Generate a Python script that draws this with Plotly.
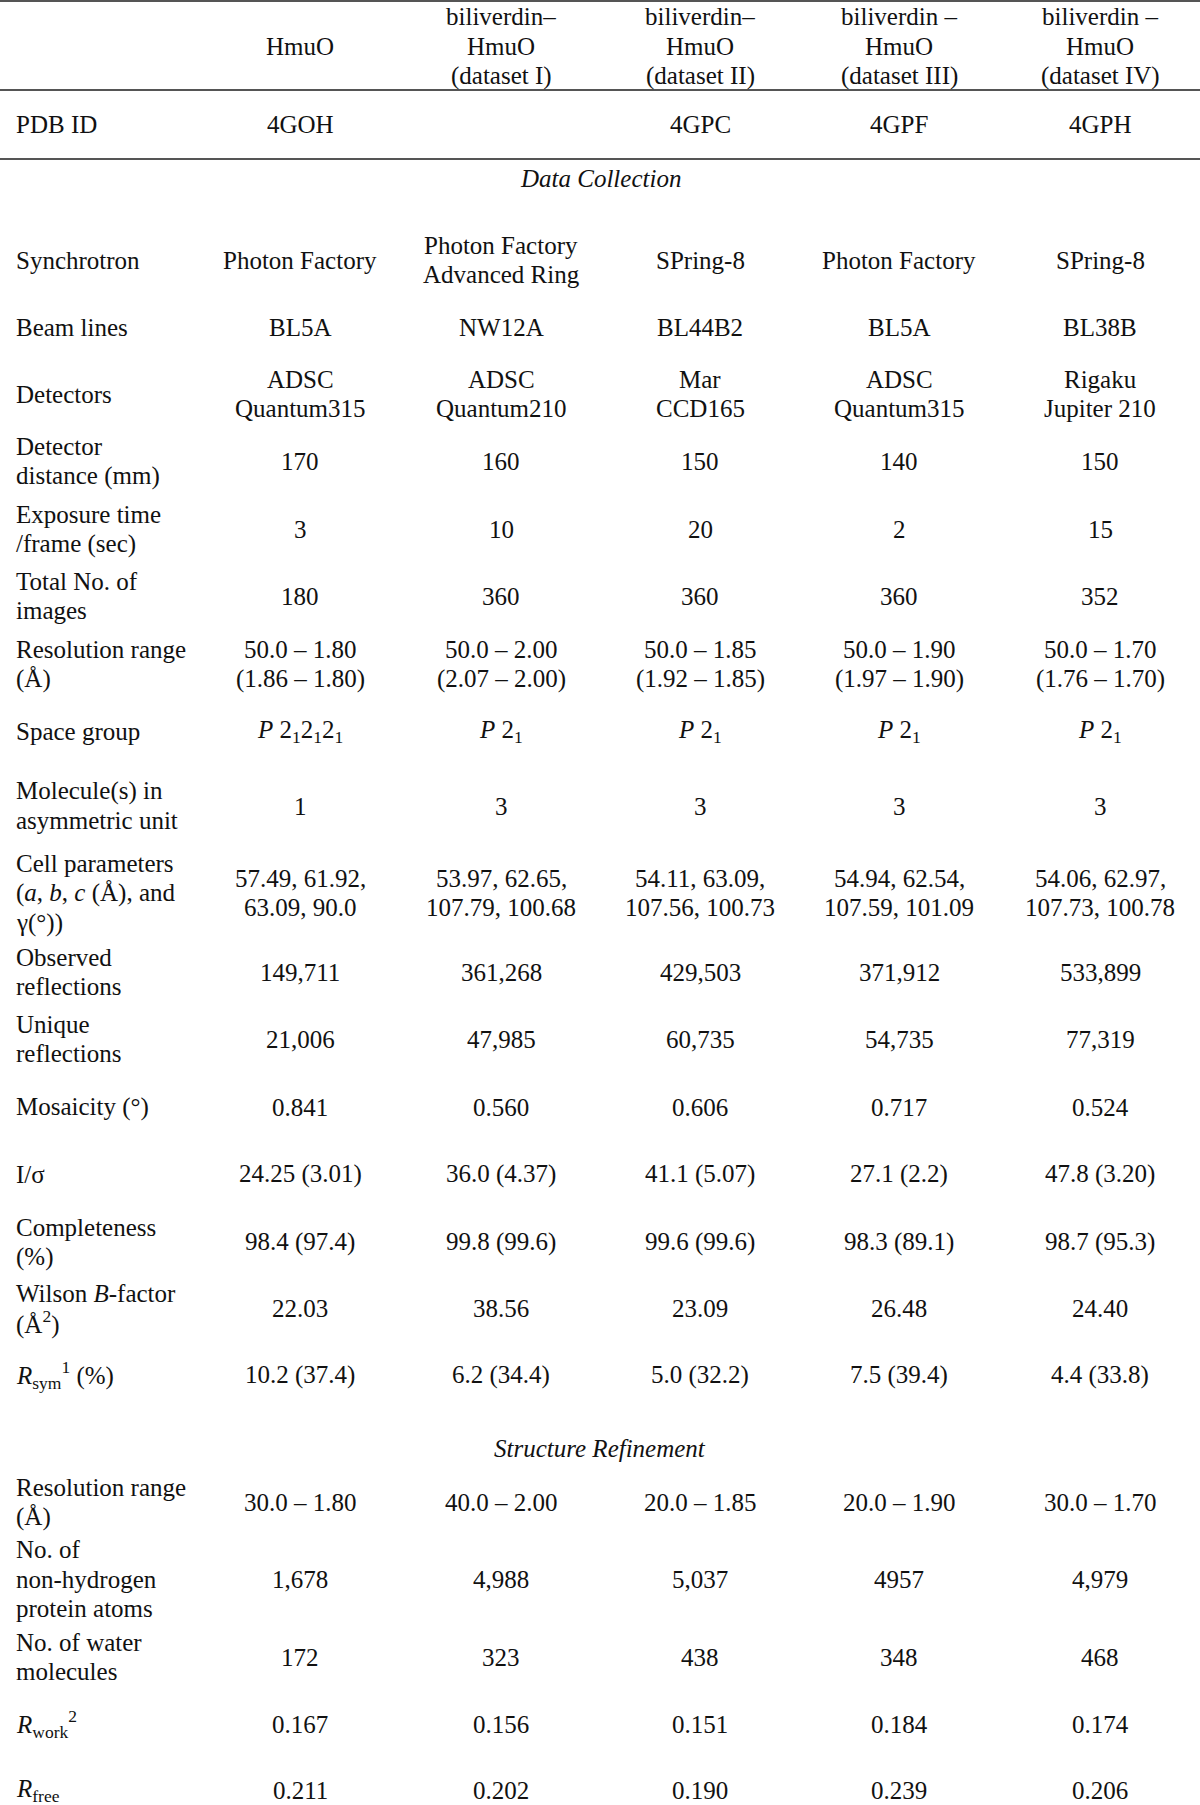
import plotly.graph_objects as go

# ---------------- data ----------------
col_headers = [
    "HmuO",
    "biliverdin–<br>HmuO<br>(dataset I)",
    "biliverdin–<br>HmuO<br>(dataset II)",
    "biliverdin –<br>HmuO<br>(dataset III)",
    "biliverdin –<br>HmuO<br>(dataset IV)",
]
pdb_label = "PDB ID"
pdb_ids = ["4GOH", "", "4GPC", "4GPF", "4GPH"]

section_titles = ["Data Collection", "Structure Refinement"]

row_labels = [
    "Synchrotron",
    "Beam lines",
    "Detectors",
    "Detector<br>distance (mm)",
    "Exposure time<br>/frame (sec)",
    "Total No. of<br>images",
    "Resolution range<br>(Å)",
    "Space group",
    "Molecule(s) in<br>asymmetric unit",
    "Cell parameters<br>(<i>a</i>, <i>b</i>, <i>c</i> (Å), and<br>γ(°))",
    "Observed<br>reflections",
    "Unique<br>reflections",
    "Mosaicity (°)",
    "I/σ",
    "Completeness<br>(%)",
    "Wilson <i>B</i>-factor<br>(Å<sup>2</sup>)",
    "<i>R</i><sub>sym</sub><sup>1</sup> (%)",
    "Resolution range<br>(Å)",
    "No. of<br>non-hydrogen<br>protein atoms",
    "No. of water<br>molecules",
    "<i>R</i><sub>work</sub><sup>2</sup>",
    "<i>R</i><sub>free</sub>",
]

hmuo = [
    "Photon Factory", "BL5A", "ADSC<br>Quantum315", "170", "3", "180",
    "50.0 – 1.80<br>(1.86 – 1.80)",
    "<i>P</i> 2<sub>1</sub>2<sub>1</sub>2<sub>1</sub>", "1",
    "57.49, 61.92,<br>63.09, 90.0", "149,711", "21,006", "0.841",
    "24.25 (3.01)", "98.4 (97.4)", "22.03", "10.2 (37.4)",
    "30.0 – 1.80", "1,678", "172", "0.167", "0.211",
]
bv_1 = [
    "Photon Factory<br>Advanced Ring", "NW12A", "ADSC<br>Quantum210", "160", "10", "360",
    "50.0 – 2.00<br>(2.07 – 2.00)", "<i>P</i> 2<sub>1</sub>", "3",
    "53.97, 62.65,<br>107.79, 100.68", "361,268", "47,985", "0.560",
    "36.0 (4.37)", "99.8 (99.6)", "38.56", "6.2 (34.4)",
    "40.0 – 2.00", "4,988", "323", "0.156", "0.202",
]
bv_2 = [
    "SPring-8", "BL44B2", "Mar<br>CCD165", "150", "20", "360",
    "50.0 – 1.85<br>(1.92 – 1.85)", "<i>P</i> 2<sub>1</sub>", "3",
    "54.11, 63.09,<br>107.56, 100.73", "429,503", "60,735", "0.606",
    "41.1 (5.07)", "99.6 (99.6)", "23.09", "5.0 (32.2)",
    "20.0 – 1.85", "5,037", "438", "0.151", "0.190",
]
bv_3 = [
    "Photon Factory", "BL5A", "ADSC<br>Quantum315", "140", "2", "360",
    "50.0 – 1.90<br>(1.97 – 1.90)", "<i>P</i> 2<sub>1</sub>", "3",
    "54.94, 62.54,<br>107.59, 101.09", "371,912", "54,735", "0.717",
    "27.1 (2.2)", "98.3 (89.1)", "26.48", "7.5 (39.4)",
    "20.0 – 1.90", "4957", "348", "0.184", "0.239",
]
bv_4 = [
    "SPring-8", "BL38B", "Rigaku<br>Jupiter 210", "150", "15", "352",
    "50.0 – 1.70<br>(1.76 – 1.70)", "<i>P</i> 2<sub>1</sub>", "3",
    "54.06, 62.97,<br>107.73, 100.78", "533,899", "77,319", "0.524",
    "47.8 (3.20)", "98.7 (95.3)", "24.40", "4.4 (33.8)",
    "30.0 – 1.70", "4,979", "468", "0.174", "0.206",
]
columns = [hmuo, bv_1, bv_2, bv_3, bv_4]

# ---------------- layout (positions / styles) ----------------
W, H = 1200, 1805
FONT = "Liberation Serif"
FS = 25
LINE = 29.8
TXT = "#111111"
RULE = "#555555"

label_x = 14
col_x = [300, 501, 700, 899, 1100]
header_y = 46
pdb_y = 124
section_y = [178, 1448]
row_y = [260, 327, 394, 461, 529, 596, 664, 731, 806, 893, 972, 1039,
         1107, 1174, 1242, 1308, 1375, 1502, 1579, 1657, 1724, 1790]
rules_y = [1, 90, 159]

annotations = []


def add_cell(text, x, yc, anchor="center", italic=False):
    if not text:
        return
    lines = text.split("<br>")
    n = len(lines)
    for i, ln in enumerate(lines):
        y = yc + (i - (n - 1) / 2) * LINE
        t = f"<i>{ln}</i>" if italic else ln
        annotations.append(dict(
            x=x, y=y, xref="x", yref="y", text=t, showarrow=False,
            xanchor=anchor, yanchor="middle", align=anchor,
            font=dict(family=FONT, size=FS, color=TXT),
        ))


for cx, h in zip(col_x, col_headers):
    add_cell(h, cx, header_y)
add_cell(pdb_label, label_x, pdb_y, anchor="left")
for cx, p in zip(col_x, pdb_ids):
    add_cell(p, cx, pdb_y)
for t, sy in zip(section_titles, section_y):
    add_cell(t, W / 2, sy, italic=True)
for r, (lab, ry) in enumerate(zip(row_labels, row_y)):
    add_cell(lab, label_x, ry, anchor="left")
    for cx, col in zip(col_x, columns):
        add_cell(col[r], cx, ry)

shapes = [dict(type="line", xref="x", yref="y", x0=0, x1=W, y0=yy, y1=yy,
               line=dict(color=RULE, width=2)) for yy in rules_y]

fig = go.Figure()
fig.add_trace(go.Scatter(x=[0, W], y=[0, H], mode="markers",
                         marker=dict(opacity=0), hoverinfo="skip", showlegend=False))
fig.update_layout(
    width=W, height=H,
    margin=dict(l=0, r=0, t=0, b=0),
    paper_bgcolor="white", plot_bgcolor="white",
    xaxis=dict(range=[0, W], visible=False, fixedrange=True),
    yaxis=dict(range=[H, 0], visible=False, fixedrange=True),
    annotations=annotations, shapes=shapes, showlegend=False,
)
fig.write_html(
    "out.html",
    config={"displayModeBar": False},
    post_script="document.body.style.margin='0';document.body.style.overflow='hidden';",
)
